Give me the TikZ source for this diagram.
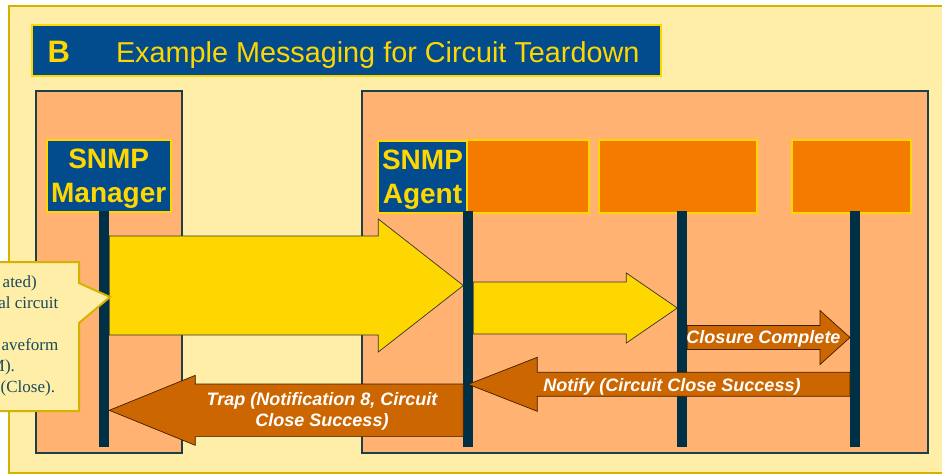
\documentclass[tikz,border=0pt]{standalone}
\usepackage{fontspec}
\setmainfont{Liberation Serif}
\setsansfont{Liberation Sans}
\usepackage{tikz}
\usetikzlibrary{positioning,calc}

\definecolor{pale}{RGB}{255,238,168}
\definecolor{gold}{RGB}{214,178,0}
\definecolor{peach}{RGB}{255,178,113}
\definecolor{slate}{RGB}{30,62,72}
\definecolor{navy}{RGB}{2,75,140}
\definecolor{sun}{RGB}{255,215,0}
\definecolor{tang}{RGB}{244,123,0}
\definecolor{pole}{RGB}{0,48,70}
\definecolor{rust}{RGB}{204,102,0}
\definecolor{ink}{RGB}{26,74,90}

\begin{document}
\begin{tikzpicture}[x=1pt,y=-1pt,every node/.style={inner sep=0pt,outer sep=0pt},
panel/.style={draw=slate,line width=2pt,fill=peach},
actor/.style={draw=sun,line width=2pt,fill=navy,text=sun,align=center,text depth=0pt,font=\sffamily\bfseries\fontsize{28}{34}\selectfont,minimum height=72pt},
spare/.style={draw=sun,line width=2pt,fill=tang,minimum height=73pt},
life/.style={fill=pole,minimum width=10pt,minimum height=236pt},
yarr/.style={draw=black!80,line width=0.7pt,fill=sun},
oarr/.style={draw=black!70!rust,line width=0.7pt,fill=rust},
blk/.style args={#1/#2/#3}{to path={($(\tikztostart)+(0,#1)$) -- ($(\tikztotarget)!#3pt!(\tikztostart)+(0,#1)$) -- ($(\tikztotarget)!#3pt!(\tikztostart)+(0,#2)$) -- (\tikztotarget) -- ($(\tikztotarget)!#3pt!(\tikztostart)+(0,-#2)$) -- ($(\tikztotarget)!#3pt!(\tikztostart)+(0,-#1)$) -- ($(\tikztostart)+(0,-#1)$) -- cycle}},
msg/.style={text=white,font=\sffamily\bfseries\itshape\fontsize{18}{21}\selectfont},
note/.style={text=ink,anchor=base east,font=\fontsize{17}{21}\selectfont}]
\path[use as bounding box,fill=white] (0,0) rectangle (942,475);
\draw[draw=gold,line width=2.5pt,fill=pale] (9,6) rectangle (990,473);
\node[draw=sun,line width=2pt,fill=navy,minimum width=629pt,minimum height=51pt] (head) at (346.3,50.5) {};
\node[anchor=base west,text=sun,font=\sffamily\bfseries\fontsize{31}{36}\selectfont] (tb) at (47.5,62.3) {B};
\node[anchor=base west,text=sun,font=\sffamily\fontsize{28.8}{34}\selectfont] (ttl) at (116,62.3) {Example Messaging for Circuit Teardown};
\node[panel,minimum width=146.5pt,minimum height=362pt] (mside) at (109.2,272) {};
\node[panel,minimum width=566.3pt,minimum height=362pt] (aside) at (644.8,272) {};
\node[actor,minimum width=124pt] (mgr) at (108.7,176.2) {SNMP\\Manager};
\node[actor,minimum width=88.4pt] (agt) at (422.5,176.7) {SNMP\\Agent};
\node[spare,minimum width=121.7pt,right=0.6pt of agt] (box1) {};
\node[spare,minimum width=158.3pt,right=10pt of box1] (box2) {};
\node[spare,minimum width=119pt] (box3) at (851.2,176.7) {};
\node[life] (lm) at (104.3,329) {};
\node[life] (la) at (468.3,329) {};
\node[life] (l3) at (682.3,329) {};
\node[life] (l4) at (855,329) {};
\coordinate (yreq) at (0,285.5);
\coordinate (yfwd) at (0,308);
\coordinate (ycls) at (0,337.5);
\coordinate (yntf) at (0,384.3);
\coordinate (ytrap) at (0,410.3);
\draw[yarr] (lm.east |- yreq) to[blk=49.5/66.5/85] (la.west |- yreq);
\draw[yarr] (la.east |- yfwd) to[blk=26/35/51] (l3.west |- yfwd);
\draw[oarr] (l3.east |- ycls) to[blk=12/27/30] (l4.west |- ycls);
\draw[oarr] (l4.west |- yntf) to[blk=12/27/69] (la.center |- yntf);
\draw[oarr] (la.west |- ytrap) to[blk=26.3/35/86] (lm.east |- ytrap);
\node[msg,anchor=base] (clstxt) at (763.5,343.3) {Closure Complete};
\node[msg,anchor=base] (ntftxt) at (672,391) {Notify (Circuit Close Success)};
\node[msg,align=center,text depth=0pt] (traptxt) at (322,409.6) {Trap (Notification 8, Circuit\\Close Success)};
\draw[draw=gold,line width=2pt,fill=pale] (-60,262) -- (79,262) -- (79,283) -- (110,297) -- (79,323) -- (79,411) -- (-60,411) -- cycle;
\node[note] (n1) at (36.7,287) {ated)};
\node[note] (n2) at (58.3,308) {al circuit};
\node[note] (n3) at (58.3,350) {aveform};
\node[note] (n4) at (15,371) {M).};
\node[note] (n5) at (55,392) {(Close).};
\end{tikzpicture}
\end{document}
